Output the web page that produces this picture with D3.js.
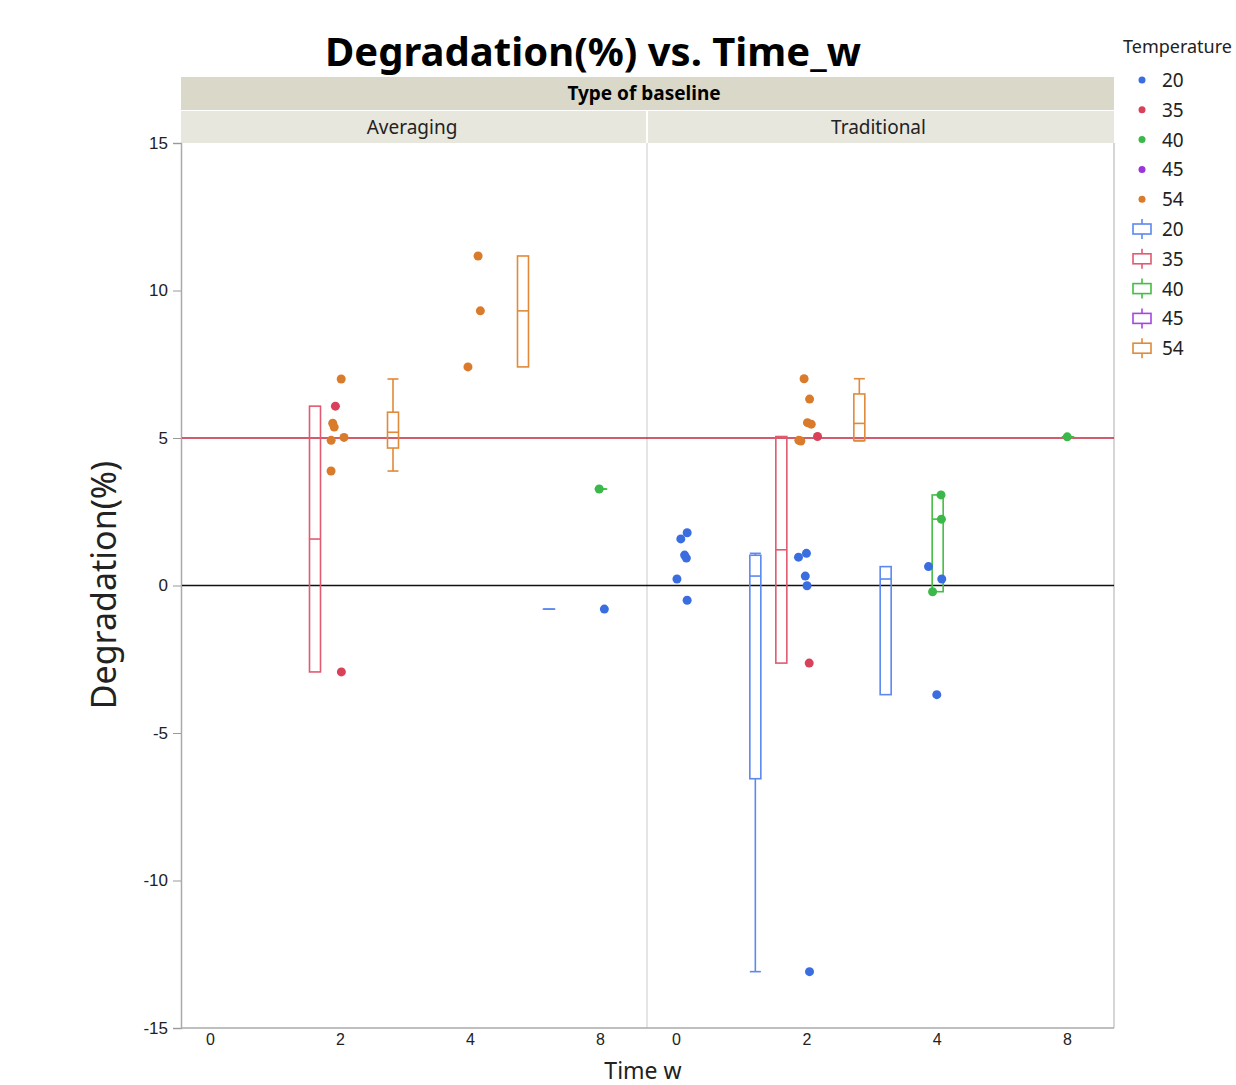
<!DOCTYPE html>
<html>
<head>
<meta charset="utf-8">
<script src="https://cdn.jsdelivr.net/npm/d3@7"></script>
<style>
  body { margin: 0; background: #fff; }
  svg { font-family: "Noto Sans", "Open Sans", sans-serif; }
  .tick text { fill: #222; }
</style>
</head>
<body>
<svg></svg>
<script>
//begin: data
var baselines = ["Averaging", "Traditional"];
var times = [0, 2, 4, 8];
var temperatures = [20, 35, 40, 45, 54];

// Averaging baseline
var avgTime = [2, 2, 2, 2, 2, 2, 2, 2, 4, 4, 4, 8, 8];
var avgTemp = [54, 54, 54, 54, 54, 54, 35, 35, 54, 54, 54, 40, 20];
var avgDeg  = [7.00, 5.50, 5.37, 5.02, 4.92, 3.88, 6.08, -2.93, 11.17, 9.31, 7.41, 3.27, -0.80];

// Traditional baseline
var tradTime = [0, 0, 0, 0, 0, 0, 2, 2, 2, 2, 2, 2, 2, 2, 2, 2, 2, 2, 2, 4, 4, 4, 4, 4, 4, 8];
var tradTemp = [20, 20, 20, 20, 20, 20, 20, 20, 20, 20, 20, 35, 35, 54, 54, 54, 54, 54, 54, 20, 20, 20, 40, 40, 40, 40];
var tradDeg  = [1.79, 1.58, 0.93, 1.03, 0.22, -0.50, 1.09, 0.96, 0.32, -0.01, -13.09, 5.05, -2.63,
                7.01, 6.32, 5.52, 5.47, 4.90, 4.92, 0.64, 0.22, -3.70, 3.07, 2.25, -0.21, 5.04];

var refLines = [5, 0];
var yTicks = [-15, -10, -5, 0, 5, 10, 15];
//end: data

//begin: layout conf.
var svgWidth = 1236,
    svgHeight = 1085,
    plotLeft = 181,
    plotRight = 1114,
    plotTop = 143,
    plotBottom = 1028,
    divider = 647,
    headerTop = 77,
    stripTop = 110,
    boxWidth = 11,
    dotRadius = 4.5;
//end: layout conf.

var dotColor = {20: "#3a6ee0", 35: "#d9405a", 40: "#3bb84a", 45: "#9b34dc", 54: "#d97b2b"};
var boxColor = {20: "#5b89ef", 35: "#e25a70", 40: "#45bd45", 45: "#a446e2", 54: "#e08a3a"};

var svg = d3.select("svg").attr("width", svgWidth).attr("height", svgHeight);

var y = d3.scaleLinear().domain([-15, 15]).range([plotBottom, plotTop]);
var dodge = d3.scalePoint().domain(temperatures).range([-51, 53]);
var panelRanges = [[plotLeft, divider], [divider, plotRight]];
var xScales = panelRanges.map(function(r) {
  return d3.scalePoint().domain(times).range([r[0] + 29, r[1] - 47]);
});

function buildRows(tArr, tempArr, degArr, panel) {
  return degArr.map(function(v, i) {
    return {panel: panel, time: tArr[i], temp: tempArr[i], value: v, idx: i};
  });
}
var panels = [
  buildRows(avgTime, avgTemp, avgDeg, 0),
  buildRows(tradTime, tradTemp, tradDeg, 1)
];

// jmp-ish quantile (type 6)
function quant(s, p) {
  var n = s.length, h = (n + 1) * p;
  if (h <= 1) return s[0];
  if (h >= n) return s[n - 1];
  var lo = Math.floor(h);
  return s[lo - 1] + (h - lo) * (s[lo] - s[lo - 1]);
}

//begin: title + header
svg.append("text")
    .attr("x", 593).attr("y", 66)
    .attr("text-anchor", "middle")
    .style("font-size", "40px").style("font-weight", "bold")
    .text("Degradation(%) vs. Time_w");

svg.append("rect")
    .attr("x", plotLeft).attr("y", headerTop)
    .attr("width", plotRight - plotLeft).attr("height", stripTop - headerTop)
    .style("fill", "#dad8c9");
svg.append("text")
    .attr("x", 644).attr("y", 100)
    .attr("text-anchor", "middle")
    .style("font-size", "19px").style("font-weight", "bold")
    .text("Type of baseline");

panelRanges.forEach(function(r, i) {
  svg.append("rect")
      .attr("x", r[0] + (i ? 1 : 0)).attr("y", stripTop + 1)
      .attr("width", r[1] - r[0] - 1).attr("height", plotTop - stripTop - 1)
      .style("fill", "#e7e7de");
  svg.append("text")
      .attr("x", (r[0] + r[1]) / 2 - 2).attr("y", 134)
      .attr("text-anchor", "middle")
      .style("font-size", "19px").style("fill", "#222")
      .text(baselines[i]);
});
//end: title + header

//begin: frame
svg.append("line")
    .attr("x1", divider).attr("x2", divider).attr("y1", plotTop).attr("y2", plotBottom)
    .style("stroke", "#dcdcdc").style("stroke-width", 1.5);
svg.append("line")
    .attr("x1", plotRight).attr("x2", plotRight).attr("y1", plotTop).attr("y2", plotBottom)
    .style("stroke", "#c8c8c8").style("stroke-width", 1.5);

var yAxis = svg.append("g")
    .attr("transform", "translate(" + plotLeft + ",0)")
    .call(d3.axisLeft(y).tickValues(yTicks).tickSize(8).tickPadding(5)
      .tickFormat(function(d) { return String(d); }));
yAxis.select(".domain").style("stroke", "#aaa").style("stroke-width", 1.5);
yAxis.selectAll(".tick line").style("stroke", "#999");
yAxis.selectAll(".tick text").style("font-size", "17px");

xScales.forEach(function(x, i) {
  var g = svg.append("g")
      .attr("transform", "translate(0," + plotBottom + ")")
      .call(d3.axisBottom(x).tickSize(0).tickPadding(6));
  g.select(".domain").remove();
  g.selectAll(".tick text").style("font-size", "16px");
});
svg.append("line")
    .attr("x1", plotLeft).attr("x2", plotRight).attr("y1", plotBottom).attr("y2", plotBottom)
    .style("stroke", "#aaa").style("stroke-width", 1.5);

svg.append("text")
    .attr("x", 643).attr("y", 1079)
    .attr("text-anchor", "middle")
    .style("font-size", "23px").style("fill", "#222")
    .text("Time w");
svg.append("text")
    .attr("transform", "translate(116,585) rotate(-90)")
    .attr("text-anchor", "middle")
    .style("font-size", "34px").style("fill", "#222")
    .text("Degradation(%)");
//end: frame

//begin: reference lines
svg.selectAll(".ref")
    .data(refLines)
    .enter().append("line")
      .attr("x1", plotLeft + 1).attr("x2", plotRight)
      .attr("y1", function(d) { return y(d); })
      .attr("y2", function(d) { return y(d); })
      .style("stroke", function(d) { return d === 0 ? "#111" : "#c4243e"; })
      .style("stroke-width", 1.6);
//end: reference lines

//begin: boxes
panels.forEach(function(rows, p) {
  var x = xScales[p];
  var groups = d3.groups(rows.filter(function(d) { return d.time !== 0; }),
    function(d) { return d.time; }, function(d) { return d.temp; });
  groups.forEach(function(tg) {
    tg[1].forEach(function(kg) {
      var vals = kg[1].map(function(d) { return d.value; }).sort(d3.ascending);
      var q1 = quant(vals, 0.25), med = quant(vals, 0.5), q3 = quant(vals, 0.75);
      var iqr = q3 - q1;
      var lo = d3.min(vals.filter(function(v) { return v >= q1 - 1.5 * iqr; }));
      var hi = d3.max(vals.filter(function(v) { return v <= q3 + 1.5 * iqr; }));
      var cx = x(tg[0]) + dodge(kg[0]);
      var col = boxColor[kg[0]];
      var g = svg.append("g").style("stroke", col).style("stroke-width", 1.6).style("fill", "none");
      [[lo, q1], [hi, q3]].forEach(function(w) {
        if (Math.abs(w[0] - w[1]) < 1e-9) return;
        g.append("line").attr("x1", cx).attr("x2", cx).attr("y1", y(w[0])).attr("y2", y(w[1]));
        g.append("line").attr("x1", cx - boxWidth / 2).attr("x2", cx + boxWidth / 2)
            .attr("y1", y(w[0])).attr("y2", y(w[0]));
      });
      g.append("rect")
          .attr("x", cx - boxWidth / 2).attr("y", y(q3))
          .attr("width", boxWidth).attr("height", Math.max(0.01, y(q1) - y(q3)));
      g.append("line").attr("x1", cx - boxWidth / 2).attr("x2", cx + boxWidth / 2)
          .attr("y1", y(med)).attr("y2", y(med));
    });
  });
});
//end: boxes

//begin: points
var jitter = d3.randomLcg(0.37);
panels.forEach(function(rows, p) {
  var x = xScales[p];
  svg.append("g").selectAll("circle")
      .data(rows)
      .enter().append("circle")
        .attr("cx", function(d) { return x(d.time) - 9 + jitter() * 21; })
        .attr("cy", function(d) { return y(d.value); })
        .attr("r", dotRadius)
        .style("fill", function(d) { return dotColor[d.temp]; });
});
//end: points

//begin: legend
var legend = svg.append("g");
legend.append("text")
    .attr("x", 1123).attr("y", 53)
    .style("font-size", "18px").style("fill", "#222")
    .text("Temperature");

var legendItems = temperatures.map(function(t) { return {kind: "dot", temp: t}; })
  .concat(temperatures.map(function(t) { return {kind: "box", temp: t}; }));

var item = legend.selectAll(".item")
    .data(legendItems)
    .enter().append("g")
      .attr("transform", function(d, i) { return "translate(1142," + (80 + i * 29.8) + ")"; });

item.filter(function(d) { return d.kind === "dot"; })
    .append("circle").attr("r", 3.5)
    .style("fill", function(d) { return dotColor[d.temp]; });

var boxIcon = item.filter(function(d) { return d.kind === "box"; })
    .append("g")
    .style("stroke", function(d) { return boxColor[d.temp]; })
    .style("stroke-width", 1.6).style("fill", "none");
boxIcon.append("line").attr("x1", 0).attr("x2", 0).attr("y1", -10).attr("y2", 10);
boxIcon.append("rect").attr("x", -9).attr("y", -5).attr("width", 18).attr("height", 10).style("fill", "#fff");

item.append("text")
    .attr("x", 20).attr("y", 7)
    .style("font-size", "19px").style("fill", "#222")
    .text(function(d) { return d.temp; });
//end: legend
</script>
</body>
</html>
